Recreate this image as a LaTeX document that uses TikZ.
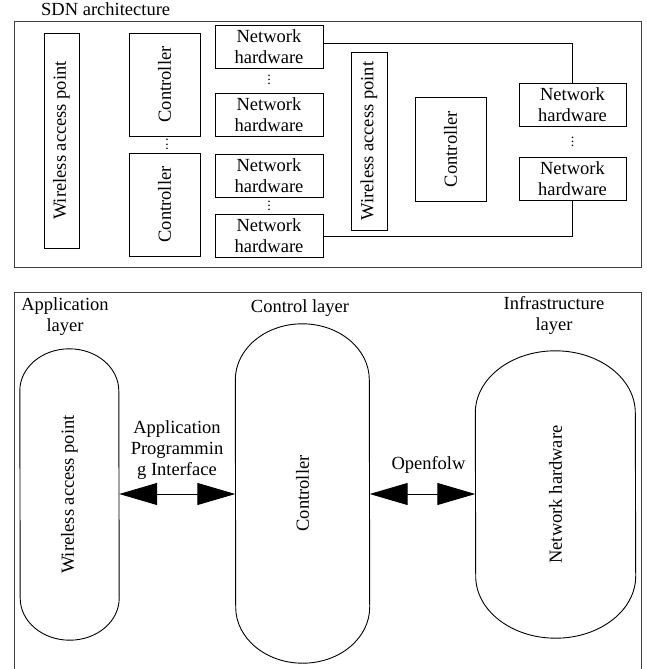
\documentclass[tikz,border=0pt]{standalone}
\usepackage{fontspec}
\usepackage{graphicx}
\setmainfont{Liberation Serif}
\usetikzlibrary{arrows.meta}

\tikzset{
  frame/.style={draw=black!75, line width=1pt},
  box/.style={draw, line width=0.9pt, inner sep=0pt, align=center},
  vbox/.style={box, rotate=90},
  layernode/.style={inner sep=0pt},
  lbl/.style={align=center, inner sep=0pt},
  vdotsnode/.style={inner sep=0pt, font=\fontsize{14}{14}\selectfont},
  dblarrow/.style={{Triangle[length=38pt,width=22pt]}-{Triangle[length=38pt,width=22pt]}, line width=1pt}
}

% three stacked dots, tighter than \vdots
\newcommand{\stackdots}{\vbox{\baselineskip4.2pt\lineskiplimit0pt\hbox{.}\hbox{.}\hbox{.}}}

% outline with elliptic caps round a named node: #1 node, #2 x radius, #3 y radius
\newcommand{\capsule}[3]{%
  \draw[line width=0.9pt] ([yshift=-#3pt]#1.north west)
    arc[start angle=180, end angle=0, x radius=#2pt, y radius=#3pt]
    -- ([yshift=#3pt]#1.south east)
    arc[start angle=0, end angle=-180, x radius=#2pt, y radius=#3pt] -- cycle;}

\begin{document}
\begin{tikzpicture}[x=1pt, y=-1pt, font=\fontsize{18.5}{21}\selectfont]
\useasboundingbox (0,0) rectangle (646,669);

% SDN architecture frame
\draw[frame] (14,22) rectangle (641,267);
\node[lbl, anchor=west] (title) at (41,9) {SDN architecture};

% first domain
\node[vbox, minimum width=215, minimum height=35] (wapA) at (61.5,140.5) {Wireless access point};
\node[vbox, minimum width=103, minimum height=71] (ctrlA) at (164.5,84.5) {Controller};
\node[vbox, minimum width=103, minimum height=71] (ctrlC) at (164.5,204.5) {Controller};
\node[vdotsnode] (dotsC) at (167,144.5) {\stackdots};

\node[box, minimum width=108, minimum height=43] (nh1) at (269,46.5) {Network\\hardware};
\node[box, minimum width=108, minimum height=43] (nh2) at (269,114.5) {Network\\hardware};
\node[box, minimum width=108, minimum height=43] (nh3) at (269,175.5) {Network\\hardware};
\node[box, minimum width=108, minimum height=43] (nh4) at (269,236) {Network\\hardware};
\node[vdotsnode] (dots12) at (269,80) {\stackdots};
\node[vdotsnode] (dots34) at (269,206) {\stackdots};

% second domain
\node[vbox, minimum width=178, minimum height=36] (wapB) at (369,141) {Wireless access point};
\node[vbox, minimum width=104, minimum height=71] (ctrlB) at (450.5,149) {Controller};
\node[box, minimum width=107, minimum height=43] (nh5) at (572.5,104.5) {Network\\hardware};
\node[box, minimum width=107, minimum height=43] (nh6) at (572.5,179) {Network\\hardware};
\node[vdotsnode] (dots56) at (572.5,142) {\stackdots};

% links between domains
\draw[line width=0.9pt] ([yshift=3pt]nh1.east) -| (nh5.north);
\draw[line width=0.9pt] (nh6.south) |- (nh4.east);

% layer frame
\draw[frame] (14,292) rectangle (641,680);
\node[lbl] (applayer) at (65,316.5) {Application\\layer};
\node[lbl] (ctrllayer) at (300,308) {Control layer};
\node[lbl] (infralayer) at (554,315.5) {Infrastructure\\layer};

% layers
\node[layernode, minimum width=99, minimum height=291] (wapL) at (69.5,494.5) {\rotatebox{90}{Wireless access point}};
\node[layernode, minimum width=134, minimum height=339] (ctrlL) at (302.5,493.5) {\rotatebox{90}{Controller}};
\node[layernode, minimum width=160, minimum height=287] (nhL) at (555.5,494.5) {\rotatebox{90}{Network hardware}};
\capsule{wapL}{49.5}{42}
\capsule{ctrlL}{67}{56}
\capsule{nhL}{80}{62}

% interfaces
\coordinate (ify) at (0,494);
\draw[dblarrow] (wapL.east |- ify) -- (ctrlL.west |- ify);
\draw[dblarrow] (ctrlL.east |- ify) -- (nhL.west |- ify);
\node[lbl] (api) at (177,450) {Application\\Programmin\\g Interface};
\node[lbl] (ofl) at (428.5,465) {Openfolw};
\end{tikzpicture}
\end{document}
